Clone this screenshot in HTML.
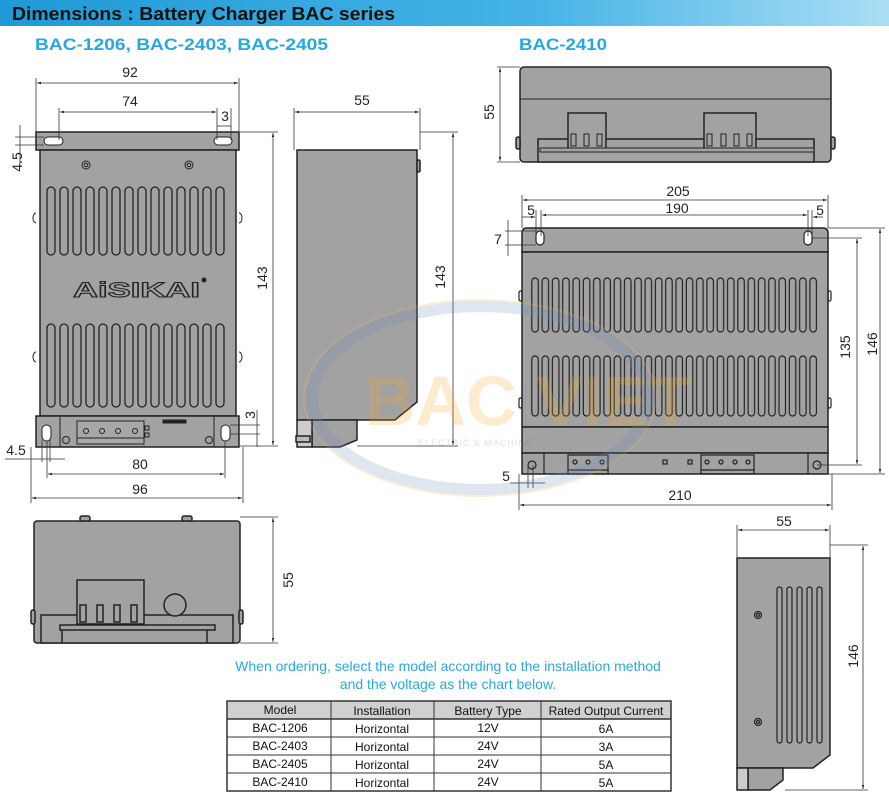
<!DOCTYPE html>
<html><head><meta charset="utf-8"><style>
html,body{margin:0;padding:0;background:#fff;}
svg{display:block;font-family:"Liberation Sans",Arial,sans-serif;}
</style></head><body>
<svg width="889" height="800" viewBox="0 0 889 800" xmlns="http://www.w3.org/2000/svg">
<defs>
<linearGradient id="hg" x1="0" x2="1" y1="0" y2="0">
<stop offset="0" stop-color="#1e9ad6"/><stop offset="0.6" stop-color="#45b3e6"/><stop offset="1" stop-color="#a9def5"/>
</linearGradient>
<pattern id="vL" x="46" y="0" width="13" height="800" patternUnits="userSpaceOnUse">
<rect x="1" y="187" width="8" height="68" rx="4" fill="none" stroke="#222" stroke-width="1.3"/>
<rect x="1" y="324" width="8" height="83" rx="4" fill="none" stroke="#222" stroke-width="1.3"/>
</pattern>
<pattern id="vR" x="531" y="0" width="10.3" height="800" patternUnits="userSpaceOnUse">
<rect x="0.8" y="278" width="6.5" height="54" rx="3.2" fill="none" stroke="#222" stroke-width="1.2"/>
<rect x="0.8" y="356" width="6.5" height="60" rx="3.2" fill="none" stroke="#222" stroke-width="1.2"/>
</pattern>
<marker id="a" viewBox="0 0 10 10" refX="10" refY="5" markerWidth="7" markerHeight="5" orient="auto-start-reverse"><path d="M0,2L10,5L0,8z" fill="#222"/></marker>
</defs>
<rect x="0" y="0" width="889" height="26" fill="url(#hg)"/>
<text x="12" y="20" font-size="18" font-weight="bold" fill="#111" textLength="383" lengthAdjust="spacingAndGlyphs">Dimensions : Battery Charger BAC series</text>
<text x="35" y="50" font-size="17" font-weight="bold" fill="#29a8e0" textLength="293" lengthAdjust="spacingAndGlyphs">BAC-1206, BAC-2403, BAC-2405</text>
<text x="519" y="50" font-size="17" font-weight="bold" fill="#29a8e0" textLength="88" lengthAdjust="spacingAndGlyphs">BAC-2410</text>

<g stroke="#222" stroke-width="1" fill="none">
<rect x="36" y="132" width="203" height="18" fill="#a2a2a2" stroke-width="1.5"/>
<rect x="40" y="150" width="196" height="266" fill="#a2a2a2" stroke-width="1.5"/>
<rect x="36" y="416" width="203" height="31" fill="#a2a2a2" stroke-width="1.5"/>
<rect x="46" y="0" width="182" height="800" fill="url(#vL)" stroke="none"/>
<rect x="44" y="137" width="19" height="8" rx="4" fill="#fff"/>
<rect x="214" y="137" width="18" height="8" rx="4" fill="#fff"/>
<rect x="42" y="425" width="9" height="16" rx="4.5" fill="#fff"/>
<rect x="221" y="425" width="9" height="16" rx="4.5" fill="#fff"/>
<circle cx="86" cy="165" r="4"/><circle cx="86" cy="165" r="1.8"/>
<circle cx="189" cy="165" r="4"/><circle cx="189" cy="165" r="1.8"/>
<circle cx="66" cy="440" r="3.5"/><circle cx="209" cy="440" r="3.5"/>
<line x1="60" y1="416" x2="60" y2="447"/><line x1="214" y1="416" x2="214" y2="447"/>
<rect x="77" y="421" width="67" height="23" fill="#a8a8a8"/>
<line x1="77" y1="438" x2="144" y2="438"/>
<circle cx="86" cy="431" r="2.5"/><circle cx="102" cy="431" r="2.5"/><circle cx="118" cy="431" r="2.5"/><circle cx="135" cy="431" r="2.5"/>
<rect x="145" y="426" width="4" height="4"/><rect x="145" y="433" width="4" height="4"/>
<rect x="163" y="420" width="23" height="3" fill="#222"/>
<path d="M36,213 a3,5 0 0 0 0,10 M239,213 a3,5 0 0 1 0,10 M36,352 a3,5 0 0 0 0,10 M239,352 a3,5 0 0 1 0,10"/>
</g>
<text x="73" y="297" font-size="21" font-weight="bold" fill="#a2a2a2" stroke="#222" stroke-width="1" textLength="127" lengthAdjust="spacingAndGlyphs">AiSIKAI</text>
<circle cx="204" cy="280" r="2.5" fill="#222"/>

<g stroke="#222" stroke-width="1.5" fill="#a2a2a2">
<path d="M297,150 H417 V402 L395,420 H297 Z"/>
<path d="M312,420 H357 V440 L340,447 H312 Z"/>
<rect x="297" y="420" width="15" height="27" fill="#ccc"/>
<rect x="296" y="436" width="14" height="6" fill="#bbb"/>
<rect x="417" y="160" width="3" height="12" rx="1.5"/>
</g>

<g stroke="#222" stroke-width="1.5" fill="#a2a2a2">
<rect x="34" y="521" width="206" height="122" rx="3"/>
<rect x="41" y="615" width="192" height="28"/>
<rect x="77" y="580" width="67" height="44"/>
<circle cx="175" cy="605" r="11"/>
<rect x="60" y="625" width="155" height="5"/>
<rect x="80" y="605" width="6" height="17" fill="none"/><rect x="97" y="605" width="6" height="17" fill="none"/><rect x="114" y="605" width="6" height="17" fill="none"/><rect x="131" y="605" width="6" height="17" fill="none"/>
<rect x="80" y="516" width="10" height="5" rx="2"/><rect x="182" y="516" width="10" height="5" rx="2"/>
<rect x="31" y="610" width="4" height="14" rx="2"/><rect x="239" y="610" width="4" height="14" rx="2"/>
<line x1="62" y1="630" x2="62" y2="643"/><line x1="207" y1="630" x2="207" y2="643"/>
</g>

<g stroke="#222" stroke-width="1.5" fill="#a2a2a2">
<rect x="520" y="67" width="311" height="95" rx="4"/>
<line x1="520" y1="99" x2="831" y2="99" stroke-width="1"/>
<rect x="538" y="139" width="276" height="23"/>
<rect x="568" y="113" width="38" height="36"/>
<rect x="704" y="113" width="52" height="36"/>
<rect x="540" y="148" width="274" height="4" stroke-width="1"/>
<rect x="571" y="134" width="5" height="12" fill="none" stroke-width="1"/><rect x="584" y="134" width="5" height="12" fill="none" stroke-width="1"/><rect x="597" y="134" width="5" height="12" fill="none" stroke-width="1"/>
<rect x="707" y="134" width="5" height="12" fill="none" stroke-width="1"/><rect x="721" y="134" width="5" height="12" fill="none" stroke-width="1"/><rect x="734" y="134" width="5" height="12" fill="none" stroke-width="1"/><rect x="747" y="134" width="5" height="12" fill="none" stroke-width="1"/>
<rect x="516" y="137" width="4" height="12" rx="2"/><rect x="831" y="137" width="4" height="12" rx="2"/>
</g>

<g stroke="#222" stroke-width="1.5" fill="#a2a2a2">
<path d="M527,228 H823 Q828,228 828,233 V252 H522 V233 Q522,228 527,228 Z"/>
<rect x="522" y="252" width="306" height="175"/>
<rect x="522" y="427" width="306" height="26"/>
<rect x="522" y="453" width="306" height="21"/>
</g>
<rect x="531" y="0" width="288" height="800" fill="url(#vR)"/>
<g stroke="#222" stroke-width="1.2" fill="none">
<rect x="536" y="231" width="8" height="14" rx="4" fill="#fff"/>
<rect x="804" y="231" width="8" height="14" rx="4" fill="#fff"/>
<circle cx="532" cy="465" r="4"/><circle cx="817" cy="465" r="4"/>
<line x1="544" y1="453" x2="544" y2="474"/><line x1="808" y1="453" x2="808" y2="474"/>
<rect x="568" y="455" width="40" height="19"/><line x1="568" y1="470" x2="608" y2="470"/>
<circle cx="575" cy="462" r="2"/><circle cx="588" cy="462" r="2"/><circle cx="602" cy="462" r="2"/>
<rect x="701" y="455" width="53" height="19"/><line x1="701" y1="470" x2="754" y2="470"/>
<circle cx="707" cy="462" r="2"/><circle cx="721" cy="462" r="2"/><circle cx="735" cy="462" r="2"/><circle cx="748" cy="462" r="2"/>
<rect x="663" y="460" width="4" height="4"/><rect x="688" y="460" width="4" height="4"/>
<rect x="519" y="291" width="3" height="10" rx="1.5"/><rect x="828" y="291" width="3" height="10" rx="1.5"/>
<rect x="519" y="398" width="3" height="10" rx="1.5"/><rect x="828" y="398" width="3" height="10" rx="1.5"/>
</g>

<g stroke="#222" stroke-width="1.5" fill="#a2a2a2">
<path d="M737,558 H830 V755 L813,768 H737 Z"/>
<path d="M748,768 H783 V780 L770,790 H748 Z"/>
<rect x="737" y="768" width="11" height="22" fill="#ccc"/>
</g>
<g stroke="#222" stroke-width="1.2" fill="none">
<rect x="777" y="587" width="5" height="156" rx="2.5"/><rect x="787" y="587" width="5" height="156" rx="2.5"/><rect x="797" y="587" width="5" height="156" rx="2.5"/><rect x="807" y="587" width="5" height="156" rx="2.5"/><rect x="817" y="587" width="5" height="156" rx="2.5"/>
<circle cx="758" cy="615" r="3.5"/><circle cx="758" cy="615" r="1.5"/>
<circle cx="758" cy="722" r="3.5"/><circle cx="758" cy="722" r="1.5"/>
</g>

<g stroke="#333" stroke-width="0.8" fill="none">
<line x1="36" y1="78" x2="36" y2="132"/><line x1="239" y1="78" x2="239" y2="132"/>
<line x1="37" y1="83" x2="238" y2="83" marker-start="url(#a)" marker-end="url(#a)"/>
<line x1="59" y1="108" x2="59" y2="140"/><line x1="217" y1="108" x2="217" y2="140"/>
<line x1="60" y1="112" x2="216" y2="112" marker-start="url(#a)" marker-end="url(#a)"/>
<line x1="217" y1="126" x2="231" y2="126"/><line x1="231" y1="108" x2="231" y2="140"/>
<line x1="15" y1="137" x2="44" y2="137"/><line x1="15" y1="145" x2="44" y2="145"/>
<line x1="20" y1="125" x2="20" y2="167"/>
<line x1="240" y1="132" x2="278" y2="132"/><line x1="240" y1="446" x2="278" y2="446"/>
<line x1="273" y1="133" x2="273" y2="445" marker-start="url(#a)" marker-end="url(#a)"/>
<line x1="230" y1="425" x2="260" y2="425"/><line x1="230" y1="434" x2="260" y2="434"/>
<line x1="257" y1="410" x2="257" y2="447"/>
<line x1="5" y1="459" x2="65" y2="459"/><line x1="42" y1="440" x2="42" y2="462"/><line x1="50" y1="440" x2="50" y2="462"/>
<line x1="47" y1="441" x2="47" y2="478"/><line x1="225" y1="441" x2="225" y2="478"/>
<line x1="48" y1="474" x2="224" y2="474" marker-start="url(#a)" marker-end="url(#a)"/>
<line x1="31" y1="447" x2="31" y2="503"/><line x1="243" y1="447" x2="243" y2="503"/>
<line x1="32" y1="498" x2="242" y2="498" marker-start="url(#a)" marker-end="url(#a)"/>
<line x1="294" y1="108" x2="294" y2="150"/><line x1="420" y1="108" x2="420" y2="150"/>
<line x1="295" y1="112" x2="419" y2="112" marker-start="url(#a)" marker-end="url(#a)"/>
<line x1="420" y1="132" x2="458" y2="132"/><line x1="357" y1="446" x2="458" y2="446"/>
<line x1="453" y1="133" x2="453" y2="445" marker-start="url(#a)" marker-end="url(#a)"/>
<line x1="240" y1="517" x2="278" y2="517"/><line x1="240" y1="643" x2="278" y2="643"/>
<line x1="273" y1="518" x2="273" y2="642" marker-start="url(#a)" marker-end="url(#a)"/>
<line x1="497" y1="67" x2="520" y2="67"/><line x1="497" y1="162" x2="520" y2="162"/>
<line x1="500" y1="68" x2="500" y2="161" marker-start="url(#a)" marker-end="url(#a)"/>
<line x1="522" y1="195" x2="522" y2="228"/><line x1="828" y1="195" x2="828" y2="228"/>
<line x1="523" y1="200" x2="827" y2="200" marker-start="url(#a)" marker-end="url(#a)"/>
<line x1="536" y1="210" x2="536" y2="236"/><line x1="541" y1="210" x2="541" y2="236"/>
<line x1="808" y1="210" x2="808" y2="236"/><line x1="812" y1="210" x2="812" y2="236"/>
<line x1="542" y1="215" x2="807" y2="215" marker-start="url(#a)" marker-end="url(#a)"/>
<line x1="522" y1="217" x2="535" y2="217" marker-end="url(#a)"/><line x1="823" y1="217" x2="813" y2="217" marker-end="url(#a)"/>
<line x1="505" y1="231" x2="536" y2="231"/><line x1="505" y1="245" x2="536" y2="245"/>
<line x1="508" y1="220" x2="508" y2="256"/>
<line x1="812" y1="238" x2="862" y2="238"/><line x1="817" y1="465" x2="862" y2="465"/>
<line x1="857" y1="239" x2="857" y2="464" marker-start="url(#a)" marker-end="url(#a)"/>
<line x1="828" y1="228" x2="885" y2="228"/><line x1="828" y1="474" x2="885" y2="474"/>
<line x1="880" y1="229" x2="880" y2="473" marker-start="url(#a)" marker-end="url(#a)"/>
<line x1="510" y1="483" x2="545" y2="483"/><line x1="528" y1="465" x2="528" y2="488"/><line x1="533" y1="465" x2="533" y2="488"/>
<line x1="519" y1="474" x2="519" y2="510"/><line x1="832" y1="474" x2="832" y2="510"/>
<line x1="520" y1="505" x2="831" y2="505" marker-start="url(#a)" marker-end="url(#a)"/>
<line x1="737" y1="525" x2="737" y2="558"/><line x1="830" y1="525" x2="830" y2="558"/>
<line x1="738" y1="530" x2="829" y2="530" marker-start="url(#a)" marker-end="url(#a)"/>
<line x1="830" y1="545" x2="868" y2="545"/><line x1="785" y1="790" x2="868" y2="790"/>
<line x1="863" y1="546" x2="863" y2="789" marker-start="url(#a)" marker-end="url(#a)"/>
</g>

<g font-size="14" fill="#222" text-anchor="middle">
<text x="130" y="77">92</text>
<text x="130" y="106">74</text>
<text x="225" y="121">3</text>
<text x="17" y="162" transform="rotate(-90 17 162)" dy="5">4.5</text>
<text x="262" y="278" transform="rotate(-90 262 278)" dy="5">143</text>
<text x="250" y="415" transform="rotate(-90 250 415)" dy="5">3</text>
<text x="16" y="455">4.5</text>
<text x="140" y="469">80</text>
<text x="140" y="494">96</text>
<text x="362" y="105">55</text>
<text x="440" y="277" transform="rotate(-90 440 277)" dy="5">143</text>
<text x="288" y="580" transform="rotate(-90 288 580)" dy="5">55</text>
<text x="489" y="112" transform="rotate(-90 489 112)" dy="5">55</text>
<text x="678" y="196">205</text>
<text x="677" y="213">190</text>
<text x="531" y="215">5</text>
<text x="820" y="215">5</text>
<text x="498" y="244">7</text>
<text x="845" y="347" transform="rotate(-90 845 347)" dy="5">135</text>
<text x="872" y="344" transform="rotate(-90 872 344)" dy="5">146</text>
<text x="506" y="481">5</text>
<text x="680" y="500">210</text>
<text x="784" y="526">55</text>
<text x="853" y="656" transform="rotate(-90 853 656)" dy="5">146</text>
</g>

<g opacity="0.22">
<ellipse cx="480" cy="398" rx="168" ry="92" fill="none" stroke="#6f8fc0" stroke-width="12"/>
<ellipse cx="480" cy="398" rx="176" ry="98" fill="none" stroke="#f2b440" stroke-width="2"/>
<text x="365" y="425" font-size="70" font-weight="bold" fill="#f5a820">BAC VIET</text>
<text x="418" y="446" font-size="9" fill="#66778a" letter-spacing="1">ELECTRIC &amp; MACHINE</text>
</g>

<g font-size="14" fill="#29a8e0" text-anchor="middle">
<text x="448" y="671">When ordering, select the model according to the installation method</text>
<text x="448" y="689">and the voltage as the chart below.</text>
</g>

<rect x="227" y="701" width="444" height="18" fill="#d0d0d0"/>
<g stroke="#333" stroke-width="1" fill="none">
<rect x="227" y="701" width="444" height="90" stroke-width="1.5"/>
<line x1="227" y1="719" x2="671" y2="719" stroke-width="1.5"/>
<line x1="227" y1="737" x2="671" y2="737"/><line x1="227" y1="755" x2="671" y2="755"/><line x1="227" y1="773" x2="671" y2="773"/>
<line x1="331" y1="701" x2="331" y2="791"/><line x1="434" y1="701" x2="434" y2="791"/><line x1="541" y1="701" x2="541" y2="791"/>
</g>
<g font-size="12" fill="#111" text-anchor="middle">
<text x="280" y="714">Model</text><text x="382" y="715">Installation</text><text x="488" y="715">Battery Type</text><text x="606" y="715">Rated Output Current</text>
<text x="280" y="732">BAC-1206</text><text x="382" y="733">Horizontal</text><text x="488" y="732">12V</text><text x="606" y="733">6A</text>
<text x="280" y="750">BAC-2403</text><text x="382" y="751">Horizontal</text><text x="488" y="750">24V</text><text x="606" y="751">3A</text>
<text x="280" y="768">BAC-2405</text><text x="382" y="769">Horizontal</text><text x="488" y="768">24V</text><text x="606" y="769">5A</text>
<text x="280" y="786">BAC-2410</text><text x="382" y="787">Horizontal</text><text x="488" y="786">24V</text><text x="606" y="787">5A</text>
</g>
</svg>
</body></html>
